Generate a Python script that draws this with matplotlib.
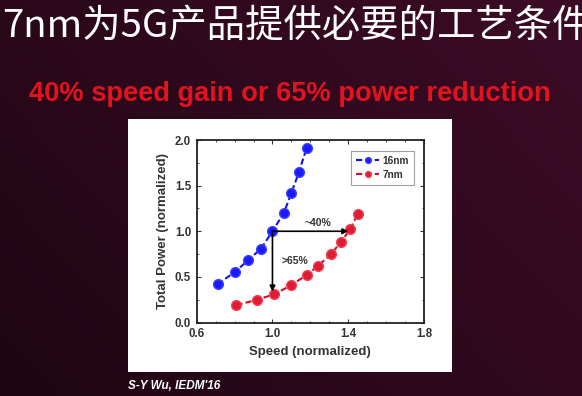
import numpy as np
import matplotlib.pyplot as plt
from matplotlib.patches import Rectangle
from matplotlib.ticker import MultipleLocator

# data
speed_16 = [0.71, 0.80, 0.87, 0.94, 1.00, 1.06, 1.10, 1.14, 1.18]
power_16 = [0.42, 0.55, 0.68, 0.81, 1.00, 1.20, 1.42, 1.65, 1.91]
speed_7 = [0.81, 0.92, 1.01, 1.10, 1.18, 1.24, 1.31, 1.36, 1.41, 1.45]
power_7 = [0.19, 0.25, 0.31, 0.41, 0.52, 0.62, 0.75, 0.88, 1.02, 1.19]
xticks = [0.6, 1.0, 1.4, 1.8]
yticks = [0.0, 0.5, 1.0, 1.5, 2.0]

title = "7nm为5G产品提供必要的工艺条件"
subtitle = "40% speed gain or 65% power reduction"
source = "S-Y Wu, IEDM'16"

W, H = 582, 396
fig = plt.figure(figsize=(W / 100, H / 100), dpi=100)

# dark maroon slide background
bg = fig.add_axes([0, 0, 1, 1], zorder=-10)
gx = np.linspace(0, 1, 200)
gy = np.linspace(0, 1, 150)
X, Y = np.meshgrid(gx, gy)
c0 = np.array([0x1c, 0x05, 0x10]) / 255
c1 = np.array([0x3c, 0x0c, 0x26]) / 255
t = np.clip(0.55 * X + 0.35 * (1 - Y) + 0.1, 0, 1)[..., None]
img = c0 * (1 - t) + c1 * t
bg.imshow(img, extent=[0, 1, 0, 1], aspect='auto', origin='upper')
bg.axis('off')

# white picture panel
fig.add_artist(Rectangle((128 / W, 1 - 372 / H), (452 - 128) / W, (372 - 119) / H,
                         transform=fig.transFigure, facecolor='white', edgecolor='none', zorder=-5))

fig.text(2 / W, 1 - 37 / H, title, color='white', fontsize=27.6, va='baseline', ha='left',
         fontweight='medium', family=['Noto Sans CJK SC', 'DejaVu Sans'])
fig.text(290 / W, 1 - 94 / H, subtitle, color='#e2121e', fontsize=19.6, fontweight='bold',
         va='center', ha='center', family='Liberation Sans')
fig.text(128 / W, 1 - 386 / H, source, color='white', fontsize=8.5, fontweight='bold',
         style='italic', va='center', ha='left', family='Liberation Sans')

ax = fig.add_axes([196.7 / W, 1 - 322.5 / H, (424 - 196.7) / W, (322.5 - 140) / H])
ax.set_facecolor('white')
ax.plot(speed_16, power_16, '--o', color='#1414d8', mfc='#1a1aff', mec='#4040ff',
        ms=7, lw=1.5, dashes=(3, 1.5), label='16nm')
ax.plot(speed_7, power_7, '--o', color='#c8102e', mfc='#e01c34', mec='#f04050',
        ms=7, lw=1.5, dashes=(3, 1.5), label='7nm')

# speed gain / power reduction arrows
ax.annotate('', xy=(1.4, 1.0), xytext=(1.0, 1.0),
            arrowprops=dict(arrowstyle='-|>', color='black', lw=1.2, mutation_scale=8,
                            shrinkA=0, shrinkB=0))
ax.annotate('', xy=(1.0, 0.34), xytext=(1.0, 1.0),
            arrowprops=dict(arrowstyle='-|>', color='black', lw=1.2, mutation_scale=8,
                            shrinkA=0, shrinkB=0))
ax.text(1.24, 1.09, '~40%', fontsize=7.5, fontweight='bold', ha='center', va='center',
        color='#333333', family='Liberation Sans')
ax.text(1.12, 0.67, '>65%', fontsize=7.5, fontweight='bold', ha='center', va='center',
        color='#333333', family='Liberation Sans')

ax.set_xlim(0.6, 1.8)
ax.set_ylim(0.0, 2.0)
ax.set_xticks(xticks)
ax.set_yticks(yticks)
ax.xaxis.set_minor_locator(MultipleLocator(0.1))
ax.yaxis.set_minor_locator(MultipleLocator(0.25))
ax.tick_params(which='both', direction='in', top=True, right=True, colors='#333333')
ax.tick_params(which='major', length=3, labelsize=8.3, pad=4)
ax.tick_params(which='minor', length=1.5)
for lab in ax.get_xticklabels() + ax.get_yticklabels():
    lab.set_fontweight('bold')
    lab.set_family('Liberation Sans')
    lab.set_color('#333333')
for s in ax.spines.values():
    s.set_linewidth(1.3)
    s.set_color('#222222')
ax.set_xlabel('Speed (normalized)', fontsize=9.5, fontweight='bold', color='#333333',
              family='Liberation Sans', labelpad=4)
ax.set_ylabel('Total Power (normalized)', fontsize=9.5, fontweight='bold', color='#333333',
              family='Liberation Sans', labelpad=4)

leg = ax.legend(loc='upper right', prop={'family': 'Liberation Sans', 'weight': 'bold', 'size': 7.3},
                fancybox=False, edgecolor='#888888', handlelength=2.2, borderpad=0.5,
                labelspacing=0.4, handletextpad=0.4, markerscale=0.6,
                bbox_to_anchor=(0.98, 0.97))
leg.get_frame().set_linewidth(0.8)
for txt in leg.get_texts():
    txt.set_color('#333333')

fig.savefig('out.png', dpi=100)
